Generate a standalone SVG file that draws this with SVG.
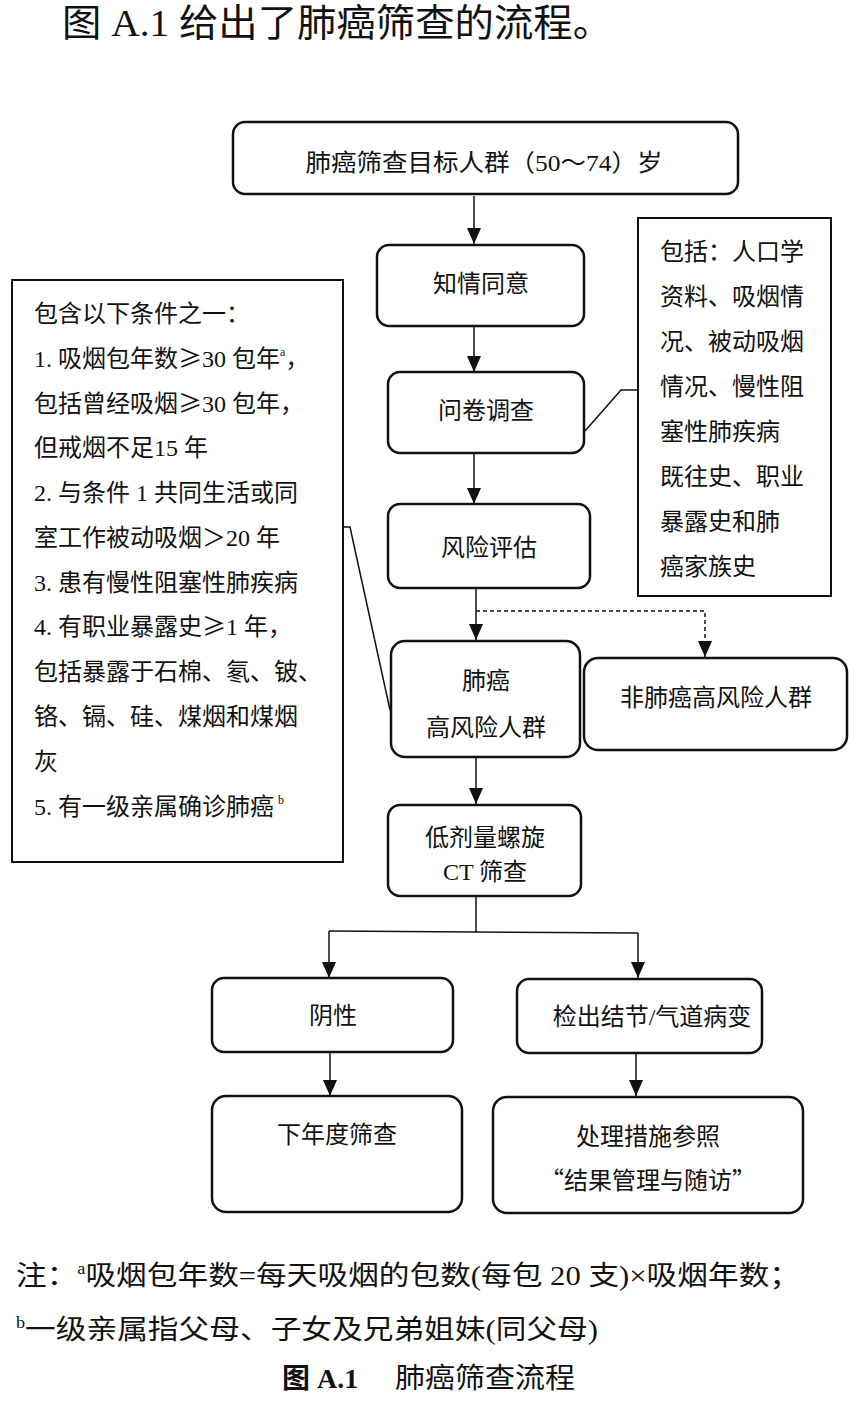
<svg xmlns="http://www.w3.org/2000/svg" width="860" height="1402" viewBox="0 0 860 1402">
<style>
  text { font-family: "Liberation Serif", "Noto Sans CJK SC", sans-serif; fill: #111; }
  .t { font-size: 24px; text-anchor: middle; }
  .l { font-size: 24px; }
  .cj { font-family: "Noto Sans CJK SC", sans-serif; }
  .rbox { fill: #fff; stroke: #111; stroke-width: 2.5; }
  .sbox { fill: #fff; stroke: #111; stroke-width: 2; }
  .ln { fill: none; stroke: #111; stroke-width: 1.5; }
  .dash { fill: none; stroke: #111; stroke-width: 1.5; stroke-dasharray: 4 3; }
</style>
<defs>
  <marker id="ah" markerWidth="16" markerHeight="14" refX="16" refY="7" orient="auto" markerUnits="userSpaceOnUse" viewBox="0 0 16 14">
    <path d="M0,0 L16,7 L0,14 Z" fill="#111"/>
  </marker>
</defs>
<rect width="860" height="1402" fill="#fff"/>

<text x="62" y="36" font-size="38" textLength="550" lengthAdjust="spacingAndGlyphs">图 A.1 给出了肺癌筛查的流程。</text>

<g id="connectors">
  <line class="ln" x1="474" y1="196" x2="474" y2="244" marker-end="url(#ah)"/>
  <line class="ln" x1="474" y1="326" x2="474" y2="372" marker-end="url(#ah)"/>
  <line class="ln" x1="474" y1="453" x2="474" y2="504" marker-end="url(#ah)"/>
  <line class="ln" x1="476" y1="589" x2="476" y2="640" marker-end="url(#ah)"/>
  <polyline class="dash" points="476,611 705,611 705,657" marker-end="url(#ah)"/>
  <line class="ln" x1="476" y1="757" x2="476" y2="804" marker-end="url(#ah)"/>
  <polyline class="ln" points="476,896 476,932"/>
  <polyline class="ln" points="329,931 638,933"/>
  <line class="ln" x1="329" y1="931" x2="329" y2="978" marker-end="url(#ah)"/>
  <line class="ln" x1="638" y1="933" x2="638" y2="978" marker-end="url(#ah)"/>
  <line class="ln" x1="330" y1="1052" x2="330" y2="1096" marker-end="url(#ah)"/>
  <line class="ln" x1="636" y1="1053" x2="636" y2="1096" marker-end="url(#ah)"/>
  <polyline class="ln" points="343,527 350,527 390,710"/>
  <polyline class="ln" points="585,431 621,390 638,390"/>
</g>

<g id="target">
  <rect class="rbox" x="233" y="122" width="505" height="72" rx="12"/>
  <text class="t" x="484" y="171" textLength="357" lengthAdjust="spacingAndGlyphs">肺癌筛查目标人群（50～74）岁</text>
</g>
<g id="consent">
  <rect class="rbox" x="377" y="245" width="207" height="81" rx="12"/>
  <text class="t" x="481" y="292">知情同意</text>
</g>
<g id="survey">
  <rect class="rbox" x="388" y="372" width="196" height="81" rx="12"/>
  <text class="t" x="486" y="419">问卷调查</text>
</g>
<g id="risk">
  <rect class="rbox" x="388" y="504" width="202" height="84" rx="12"/>
  <text class="t" x="489" y="556">风险评估</text>
</g>
<g id="highrisk">
  <rect class="rbox" x="391" y="641" width="189" height="116" rx="14"/>
  <text class="t" x="486" y="689" font-size="25">肺癌</text>
  <text class="t" x="486" y="736" font-size="25">高风险人群</text>
</g>
<g id="nonhighrisk">
  <rect class="rbox" x="584" y="658" width="263" height="92" rx="14"/>
  <text class="t" x="716" y="706" font-size="25">非肺癌高风险人群</text>
</g>
<g id="ldct">
  <rect class="rbox" x="388" y="805" width="193" height="91" rx="12"/>
  <text class="t" x="485" y="846" font-size="25">低剂量螺旋</text>
  <text class="t" x="485" y="880" font-size="25">CT 筛查</text>
</g>
<g id="negative">
  <rect class="rbox" x="212" y="978" width="241" height="74" rx="12"/>
  <text class="t" x="333" y="1024" font-size="25">阴性</text>
</g>
<g id="nodule">
  <rect class="rbox" x="517" y="979" width="245" height="74" rx="12"/>
  <text class="t" x="652" y="1025" font-size="25">检出结节/气道病变</text>
</g>
<g id="nextyear">
  <rect class="rbox" x="212" y="1096" width="250" height="116" rx="14"/>
  <text class="t" x="337" y="1143" font-size="25">下年度筛查</text>
</g>
<g id="management">
  <rect class="rbox" x="493" y="1097" width="310" height="116" rx="14"/>
  <text class="t" x="648" y="1145" font-size="25">处理措施参照</text>
  <text class="t cj" x="648" y="1189" font-size="25">“结果管理与随访”</text>
</g>

<g id="criteria">
  <rect class="sbox" x="12" y="280" width="331" height="582"/>
  <text class="l" x="34" y="322">包含以下条件之一：</text>
  <text class="l" x="34" y="367">1. 吸烟包年数<tspan class="cj">≥</tspan>30 包年<tspan font-size="12" dy="-11">a</tspan><tspan dy="11">，</tspan></text>
  <text class="l" x="34" y="412">包括曾经吸烟<tspan class="cj">≥</tspan>30 包年，</text>
  <text class="l" x="34" y="456">但戒烟不足15 年</text>
  <text class="l" x="34" y="501">2. 与条件 1 共同生活或同</text>
  <text class="l" x="34" y="546">室工作被动吸烟＞20 年</text>
  <text class="l" x="34" y="591">3. 患有慢性阻塞性肺疾病</text>
  <text class="l" x="34" y="635">4. 有职业暴露史<tspan class="cj">≥</tspan>1 年，</text>
  <text class="l" x="34" y="680">包括暴露于石棉、氡、铍、</text>
  <text class="l" x="34" y="725">铬、镉、硅、煤烟和煤烟</text>
  <text class="l" x="34" y="770">灰</text>
  <text class="l" x="34" y="815">5. 有一级亲属确诊肺癌<tspan font-size="12" dx="4" dy="-11">b</tspan></text>
</g>

<g id="survey-content">
  <rect class="sbox" x="638" y="218" width="193" height="378"/>
  <text class="l" x="660" y="260">包括：人口学</text>
  <text class="l" x="660" y="305">资料、吸烟情</text>
  <text class="l" x="660" y="350">况、被动吸烟</text>
  <text class="l" x="660" y="395">情况、慢性阻</text>
  <text class="l" x="660" y="440">塞性肺疾病</text>
  <text class="l" x="660" y="485">既往史、职业</text>
  <text class="l" x="660" y="530">暴露史和肺</text>
  <text class="l" x="660" y="575">癌家族史</text>
</g>

<text x="16" y="1285" font-size="27" textLength="784" lengthAdjust="spacingAndGlyphs">注：<tspan font-size="16" dy="-11">a</tspan><tspan dy="11">吸烟包年数=每天吸烟的包数(每包 20 支)×吸烟年数；</tspan></text>
<text x="16" y="1339" font-size="27" textLength="582" lengthAdjust="spacingAndGlyphs"><tspan font-size="16" dy="-11">b</tspan><tspan dy="11">一级亲属指父母、子女及兄弟姐妹(同父母)</tspan></text>
<text x="282" y="1388" font-size="28" font-weight="bold">图 A.1</text>
<text x="395" y="1388" font-size="28" textLength="180" lengthAdjust="spacingAndGlyphs">肺癌筛查流程</text>
</svg>
